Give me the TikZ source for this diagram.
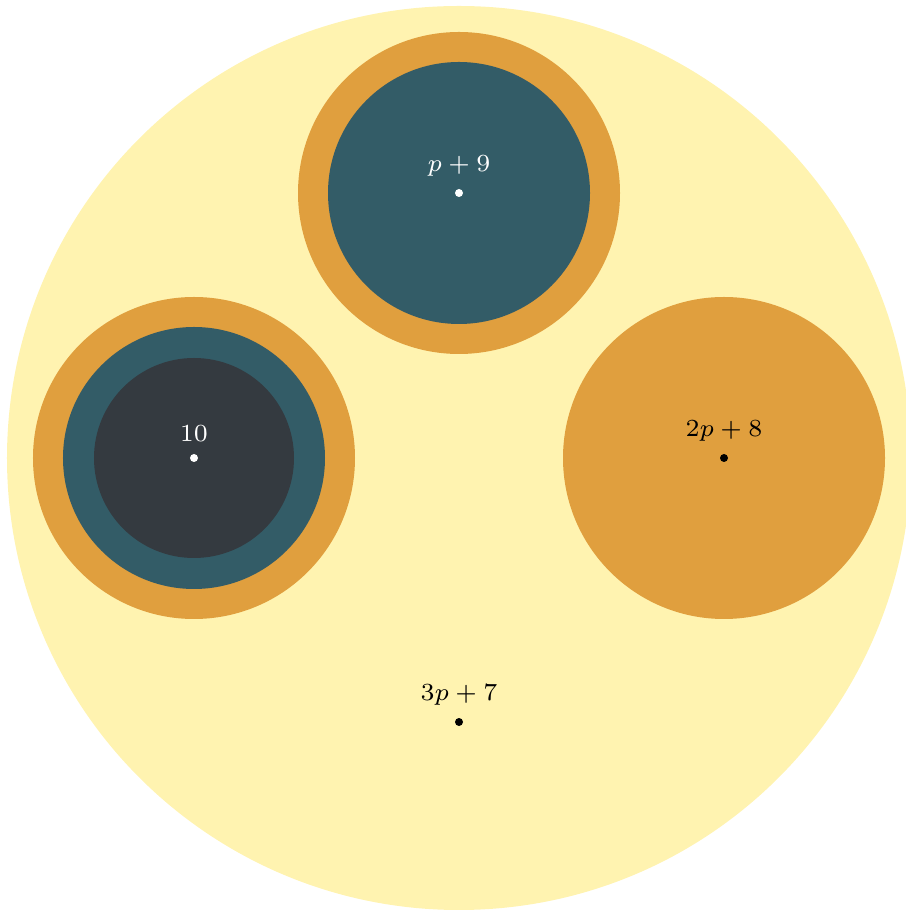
\documentclass[tikz,border=0pt]{standalone}
\usetikzlibrary{positioning}
\definecolor{sand}{HTML}{FFF3B0}
\definecolor{ochre}{HTML}{E09F3E}
\definecolor{petrol}{HTML}{335C67}
\definecolor{coal}{HTML}{343A40}
\begin{document}
\begin{tikzpicture}[
    disc/.style={circle, inner sep=0pt, outer sep=0pt},
    pt/.style={circle, fill, inner sep=0pt, minimum size=0.08cm},
    lbl/.style={inner sep=1pt, font=\scriptsize}]
    \useasboundingbox (-4.59, -4.52) rectangle (4.46, 4.58);

    \node[disc, fill=sand, minimum size=9.04cm] (big) at (0, 0) {};

    \node[disc, fill=ochre, minimum size=3.22cm] (o1) at (0, 2.65) {};
    \node[disc, fill=petrol, minimum size=2.62cm] (t1) at (0, 2.65) {};

    \node[disc, fill=ochre, minimum size=3.22cm] (o2) at (-2.65, 0) {};
    \node[disc, fill=petrol, minimum size=2.62cm] (t2) at (-2.65, 0) {};
    \node[disc, fill=coal, minimum size=2cm] (c2) at (-2.65, 0) {};

    \node[disc, fill=ochre, minimum size=3.22cm] (o3) at (2.65, 0) {};

    \node[pt, fill=white] (p1) at (t1.center) {};
    \node[lbl, text=white, above=0.08 of p1] (l1) {$p+9$};

    \node[pt, fill=white] (p2) at (c2.center) {};
    \node[lbl, text=white, above=0.08 of p2] (l2) {$10$};

    \node[pt] (p3) at (o3.center) {};
    \node[lbl, above=0.08 of p3] (l3) {$2p+8$};

    \node[pt] (p4) at (0, -2.64) {};
    \node[lbl, above=0.08 of p4] (l4) {$3p+7$};

  \end{tikzpicture}
\end{document}
